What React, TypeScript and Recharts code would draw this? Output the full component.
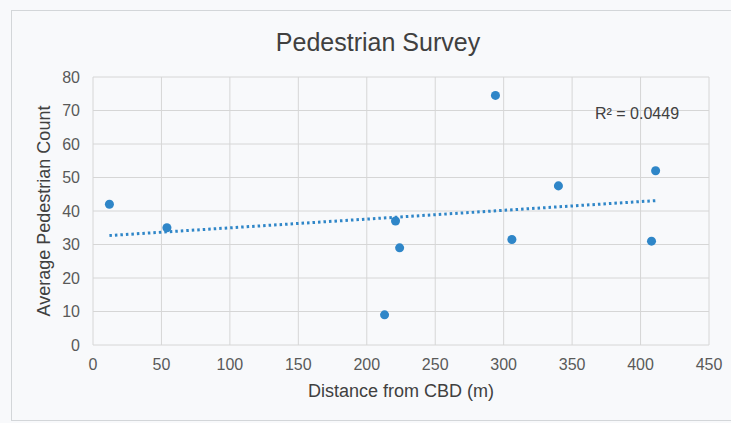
import React from 'react';
import {
  ScatterChart,
  Scatter,
  XAxis,
  YAxis,
  ZAxis,
  CartesianGrid,
  ReferenceLine,
  Label,
} from 'recharts';

// survey sites: distance from the CBD and the average pedestrian count there
const distance = [12, 54, 213, 221, 224, 294, 306, 340, 408, 411];
const pedestrians = [42, 35, 9, 37, 29, 74.5, 31.5, 47.5, 31, 52];

const xTicks = [0, 50, 100, 150, 200, 250, 300, 350, 400, 450];
const yTicks = [0, 10, 20, 30, 40, 50, 60, 70, 80];

const rSquaredText = 'R² = 0.0449';

const FONT = '"Liberation Sans", Arial, sans-serif';
const BLUE = '#2f86c8';

const points = distance.map((x, i) => ({ x, y: pedestrians[i] }));

// least-squares linear trendline, like Excel's
function linearFit(xs: number[], ys: number[]) {
  const n = xs.length;
  const mx = xs.reduce((a, b) => a + b, 0) / n;
  const my = ys.reduce((a, b) => a + b, 0) / n;
  let sxy = 0;
  let sxx = 0;
  for (let i = 0; i < n; i++) {
    sxy += (xs[i] - mx) * (ys[i] - my);
    sxx += (xs[i] - mx) * (xs[i] - mx);
  }
  const slope = sxy / sxx;
  const intercept = my - slope * mx;
  return (x: number) => intercept + slope * x;
}

const fit = linearFit(distance, pedestrians);
const xMin = Math.min(...distance);
const xMax = Math.max(...distance);
const trendSegment = [
  { x: xMin, y: fit(xMin) },
  { x: xMax, y: fit(xMax) },
];

const tickStyle = { fill: '#595959', fontSize: 16, fontFamily: FONT };

export default function App() {
  return (
    <div
      style={{
        position: 'absolute',
        left: 0,
        top: 0,
        width: 731,
        height: 423,
        overflow: 'hidden',
        background: '#f8f9fb',
        fontFamily: FONT,
      }}
    >
      {/* chart area frame */}
      <div
        style={{
          position: 'absolute',
          left: 11,
          top: 10,
          width: 740,
          height: 409,
          border: '1px solid #d3d6d9',
        }}
      />
      <div
        style={{
          position: 'absolute',
          left: 0,
          top: 27,
          width: 756,
          textAlign: 'center',
          fontSize: 25,
          color: '#404040',
          lineHeight: '30px',
        }}
      >
        Pedestrian Survey
      </div>
      <ScatterChart
        width={731}
        height={423}
        margin={{ top: 77, right: 22, left: 33, bottom: 28 }}
        style={{ position: 'absolute', left: 0, top: 0 }}
      >
        <CartesianGrid stroke="#d6d6d6" strokeWidth={1} />
        <XAxis
          type="number"
          dataKey="x"
          domain={[0, 450]}
          ticks={xTicks}
          interval={0}
          height={50}
          tickSize={0}
          tickMargin={14}
          axisLine={false}
          tick={tickStyle}
        >
          <Label
            content={({ viewBox }: any) => (
              <text
                x={viewBox.x + viewBox.width / 2}
                y={397}
                textAnchor="middle"
                fontSize={18}
                fontFamily={FONT}
                fill="#404040"
              >
                Distance from CBD (m)
              </text>
            )}
          />
        </XAxis>
        <YAxis
          type="number"
          dataKey="y"
          domain={[0, 80]}
          ticks={yTicks}
          interval={0}
          width={60}
          tickSize={0}
          tickMargin={13}
          axisLine={false}
          tick={tickStyle}
        >
          <Label
            content={({ viewBox }: any) => {
              const cy = viewBox.y + viewBox.height / 2;
              return (
                <text
                  x={44}
                  y={cy}
                  transform={`rotate(-90, 44, ${cy})`}
                  textAnchor="middle"
                  dominantBaseline="central"
                  fontSize={18}
                  fontFamily={FONT}
                  fill="#404040"
                >
                  Average Pedestrian Count
                </text>
              );
            }}
          />
        </YAxis>
        <ZAxis range={[110, 110]} />
        <ReferenceLine
          segment={trendSegment}
          stroke={BLUE}
          strokeWidth={3}
          strokeDasharray="2.5 3"
        />
        <Scatter data={points} fill={BLUE} isAnimationActive={false} />
      </ScatterChart>
      <div
        style={{
          position: 'absolute',
          left: 595,
          top: 104,
          fontSize: 16,
          color: '#404040',
          lineHeight: '20px',
          whiteSpace: 'nowrap',
        }}
      >
        {rSquaredText}
      </div>
    </div>
  );
}
